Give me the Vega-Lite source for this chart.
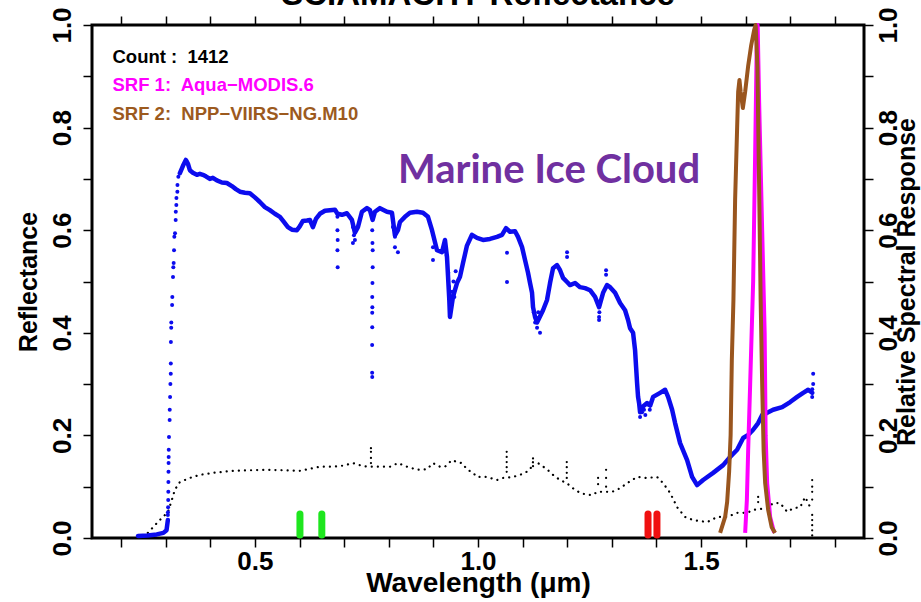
{
"$schema":"https://vega.github.io/schema/vega-lite/v6.json",
"width":772,"height":513,
"autosize":{"type":"none"},
"padding":{"left":92,"top":25,"right":57,"bottom":64},
"background":"white",
"config":{"view":{"stroke":"black","strokeWidth":3},"axis":{"grid":false,"domain":false}},
"datasets":{
"blueLine":[
{"w":0.238,"r":0.004,"g":1},{"w":0.26,"r":0.005,"g":1},{"w":0.28,"r":0.007,"g":1},{"w":0.295,"r":0.01,"g":1},{"w":0.302,"r":0.015,"g":1},{"w":0.305,"r":0.035,"g":1},
{"w":0.3318,"r":0.711,"g":2},{"w":0.3386,"r":0.725,"g":2},{"w":0.3453,"r":0.737,"g":2},{"w":0.3498,"r":0.73,"g":2},{"w":0.3543,"r":0.717,"g":2},{"w":0.361,"r":0.712,"g":2},{"w":0.37,"r":0.708,"g":2},{"w":0.3767,"r":0.71,"g":2},{"w":0.3834,"r":0.708,"g":2},{"w":0.3901,"r":0.705,"g":2},{"w":0.3991,"r":0.7,"g":2},{"w":0.4058,"r":0.702,"g":2},{"w":0.4148,"r":0.697,"g":2},{"w":0.426,"r":0.693,"g":2},{"w":0.4372,"r":0.692,"g":2},{"w":0.4484,"r":0.686,"g":2},{"w":0.4574,"r":0.68,"g":2},{"w":0.4664,"r":0.675,"g":2},{"w":0.4776,"r":0.673,"g":2},{"w":0.4888,"r":0.672,"g":2},{"w":0.5,"r":0.664,"g":2},{"w":0.5112,"r":0.655,"g":2},{"w":0.5224,"r":0.645,"g":2},{"w":0.5336,"r":0.639,"g":2},{"w":0.5448,"r":0.632,"g":2},{"w":0.5561,"r":0.626,"g":2},{"w":0.565,"r":0.616,"g":2},{"w":0.574,"r":0.606,"g":2},{"w":0.583,"r":0.601,"g":2},{"w":0.5942,"r":0.6,"g":2},{"w":0.6009,"r":0.608,"g":2},{"w":0.6076,"r":0.618,"g":2},{"w":0.6166,"r":0.619,"g":2},{"w":0.6233,"r":0.62,"g":2},{"w":0.63,"r":0.606,"g":2},{"w":0.6368,"r":0.622,"g":2},{"w":0.6457,"r":0.632,"g":2},{"w":0.657,"r":0.638,"g":2},{"w":0.6682,"r":0.639,"g":2},{"w":0.6794,"r":0.64,"g":2},{"w":0.685,"r":0.632,"g":2},{"w":0.6951,"r":0.63,"g":2},{"w":0.7063,"r":0.633,"g":2},{"w":0.7175,"r":0.62,"g":2},{"w":0.7242,"r":0.595,"g":2},{"w":0.7309,"r":0.606,"g":2},{"w":0.7399,"r":0.636,"g":2},{"w":0.7511,"r":0.643,"g":2},{"w":0.7578,"r":0.639,"g":2},{"w":0.7639,"r":0.62,"g":2},{"w":0.7691,"r":0.636,"g":2},{"w":0.7803,"r":0.643,"g":2},{"w":0.796,"r":0.636,"g":2},{"w":0.8072,"r":0.634,"g":2},{"w":0.8139,"r":0.59,"g":2},{"w":0.8206,"r":0.6,"g":2},{"w":0.8251,"r":0.616,"g":2},{"w":0.8363,"r":0.626,"g":2},{"w":0.8475,"r":0.634,"g":2},{"w":0.8632,"r":0.636,"g":2},{"w":0.8767,"r":0.634,"g":2},{"w":0.8879,"r":0.626,"g":2},{"w":0.8969,"r":0.6,"g":2},{"w":0.9081,"r":0.561,"g":2},{"w":0.9193,"r":0.557,"g":2},{"w":0.926,"r":0.581,"g":2},{"w":0.9305,"r":0.548,"g":2},{"w":0.9357,"r":0.464,"g":2},{"w":0.9372,"r":0.431,"g":2},{"w":0.9439,"r":0.47,"g":2},{"w":0.9529,"r":0.497,"g":2},{"w":0.9596,"r":0.509,"g":2},{"w":0.9664,"r":0.536,"g":2},{"w":0.9753,"r":0.57,"g":2},{"w":0.9865,"r":0.591,"g":2},{"w":0.9978,"r":0.585,"g":2},{"w":1.0112,"r":0.581,"g":2},{"w":1.0269,"r":0.583,"g":2},{"w":1.0426,"r":0.587,"g":2},{"w":1.0538,"r":0.591,"g":2},{"w":1.0628,"r":0.604,"g":2},{"w":1.0717,"r":0.597,"g":2},{"w":1.083,"r":0.598,"g":2},{"w":1.0897,"r":0.587,"g":2},{"w":1.0987,"r":0.567,"g":2},{"w":1.1054,"r":0.542,"g":2},{"w":1.1121,"r":0.517,"g":2},{"w":1.1166,"r":0.497,"g":2},{"w":1.1211,"r":0.478,"g":2},{"w":1.1233,"r":0.45,"g":2},{"w":1.1278,"r":0.431,"g":2},{"w":1.1323,"r":0.42,"g":2},{"w":1.1457,"r":0.444,"g":2},{"w":1.1547,"r":0.464,"g":2},{"w":1.1614,"r":0.497,"g":2},{"w":1.1682,"r":0.526,"g":2},{"w":1.1771,"r":0.532,"g":2},{"w":1.1839,"r":0.522,"g":2},{"w":1.1906,"r":0.507,"g":2},{"w":1.1996,"r":0.499,"g":2},{"w":1.2063,"r":0.493,"g":2},{"w":1.2175,"r":0.497,"g":2},{"w":1.2287,"r":0.489,"g":2},{"w":1.2399,"r":0.487,"g":2},{"w":1.2511,"r":0.483,"g":2},{"w":1.2623,"r":0.47,"g":2},{"w":1.2713,"r":0.45,"g":2},{"w":1.2803,"r":0.478,"g":2},{"w":1.2892,"r":0.493,"g":2},{"w":1.296,"r":0.489,"g":2},{"w":1.3072,"r":0.478,"g":2},{"w":1.3184,"r":0.458,"g":2},{"w":1.3296,"r":0.444,"g":2},{"w":1.3363,"r":0.425,"g":2},{"w":1.3408,"r":0.409,"g":2},{"w":1.3475,"r":0.4,"g":2},{"w":1.352,"r":0.366,"g":2},{"w":1.3543,"r":0.333,"g":2},{"w":1.3565,"r":0.302,"g":2},{"w":1.3587,"r":0.275,"g":2},{"w":1.361,"r":0.263,"g":2},{"w":1.3632,"r":0.245,"g":2},{"w":1.3677,"r":0.255,"g":2},{"w":1.3789,"r":0.263,"g":2},{"w":1.3857,"r":0.258,"g":2},{"w":1.3924,"r":0.275,"g":2},{"w":1.4081,"r":0.283,"g":2},{"w":1.4193,"r":0.289,"g":2},{"w":1.426,"r":0.275,"g":2},{"w":1.435,"r":0.25,"g":2},{"w":1.4417,"r":0.224,"g":2},{"w":1.4529,"r":0.185,"g":2},{"w":1.4686,"r":0.152,"g":2},{"w":1.4798,"r":0.119,"g":2},{"w":1.491,"r":0.103,"g":2},{"w":1.5045,"r":0.113,"g":2},{"w":1.5269,"r":0.127,"g":2},{"w":1.5493,"r":0.142,"g":2},{"w":1.565,"r":0.158,"g":2},{"w":1.5807,"r":0.172,"g":2},{"w":1.5942,"r":0.195,"g":2},{"w":1.6054,"r":0.201,"g":2},{"w":1.6166,"r":0.211,"g":2},{"w":1.6278,"r":0.224,"g":2},{"w":1.6368,"r":0.24,"g":2},{"w":1.648,"r":0.244,"g":2},{"w":1.6614,"r":0.25,"g":2},{"w":1.6816,"r":0.255,"g":2},{"w":1.6996,"r":0.265,"g":2},{"w":1.7152,"r":0.275,"g":2},{"w":1.7287,"r":0.283,"g":2},{"w":1.7399,"r":0.289,"g":2},{"w":1.7489,"r":0.283,"g":2}
],
"blueDots":[
{"w":0.305,"r":0.045},{"w":0.3052,"r":0.05},{"w":0.3055,"r":0.06},{"w":0.3058,"r":0.074},{"w":0.306,"r":0.09},{"w":0.3062,"r":0.109},{"w":0.3064,"r":0.129},{"w":0.3066,"r":0.146},{"w":0.3068,"r":0.158},{"w":0.307,"r":0.172},{"w":0.3075,"r":0.197},{"w":0.309,"r":0.23},{"w":0.3092,"r":0.25},{"w":0.31,"r":0.275},{"w":0.3107,"r":0.3},{"w":0.3115,"r":0.32},{"w":0.3116,"r":0.34},{"w":0.3118,"r":0.382},{"w":0.3125,"r":0.41},{"w":0.3127,"r":0.42},{"w":0.3145,"r":0.454},{"w":0.315,"r":0.47},{"w":0.3165,"r":0.509},{"w":0.3172,"r":0.528},{"w":0.318,"r":0.536},{"w":0.3188,"r":0.561},{"w":0.3195,"r":0.587},{"w":0.321,"r":0.594},{"w":0.3225,"r":0.62},{"w":0.3228,"r":0.636},{"w":0.324,"r":0.649},{"w":0.3242,"r":0.663},{"w":0.3263,"r":0.675},{"w":0.3265,"r":0.688},{"w":0.3285,"r":0.704},
{"w":0.685,"r":0.626},{"w":0.685,"r":0.6},{"w":0.6855,"r":0.581},{"w":0.685,"r":0.561},{"w":0.6855,"r":0.528},
{"w":0.7197,"r":0.606},{"w":0.7197,"r":0.575},{"w":0.7242,"r":0.581},{"w":0.722,"r":0.59},
{"w":0.763,"r":0.6},{"w":0.7635,"r":0.575},{"w":0.764,"r":0.561},{"w":0.764,"r":0.528},{"w":0.7635,"r":0.497},{"w":0.763,"r":0.47},{"w":0.7632,"r":0.45},{"w":0.763,"r":0.439},{"w":0.763,"r":0.411},{"w":0.7628,"r":0.376},{"w":0.7628,"r":0.322},{"w":0.763,"r":0.314},
{"w":0.8094,"r":0.606},{"w":0.8139,"r":0.587},{"w":0.8139,"r":0.567},{"w":0.8206,"r":0.557},
{"w":0.8991,"r":0.567},{"w":0.8991,"r":0.542},{"w":0.9334,"r":0.517},
{"w":0.928,"r":0.56},{"w":0.93,"r":0.55},{"w":0.935,"r":0.49},{"w":0.938,"r":0.45},{"w":0.94,"r":0.46},{"w":0.942,"r":0.48},{"w":0.945,"r":0.5},{"w":0.947,"r":0.47},{"w":0.95,"r":0.52},
{"w":1.065,"r":0.556},{"w":1.065,"r":0.499},
{"w":1.125,"r":0.44},{"w":1.128,"r":0.42},{"w":1.13,"r":0.43},{"w":1.1323,"r":0.41},{"w":1.135,"r":0.44},{"w":1.139,"r":0.4},{"w":1.137,"r":0.43},
{"w":1.1996,"r":0.557},{"w":1.1996,"r":0.548},
{"w":1.2713,"r":0.431},{"w":1.2713,"r":0.425},{"w":1.272,"r":0.44},
{"w":1.287,"r":0.522},{"w":1.287,"r":0.513},
{"w":1.3632,"r":0.236},{"w":1.3677,"r":0.245},{"w":1.372,"r":0.25},{"w":1.375,"r":0.24},{"w":1.38,"r":0.26},{"w":1.385,"r":0.25},
{"w":1.7511,"r":0.32},{"w":1.7511,"r":0.3},{"w":1.749,"r":0.29},{"w":1.7489,"r":0.275}
],
"blackLine":[
{"w":0.2601,"r":0.01},{"w":0.2803,"r":0.029},{"w":0.2937,"r":0.041},{"w":0.3049,"r":0.05},{"w":0.3139,"r":0.074},{"w":0.3206,"r":0.094},{"w":0.3318,"r":0.109},{"w":0.3543,"r":0.117},{"w":0.3767,"r":0.123},{"w":0.4058,"r":0.127},{"w":0.4507,"r":0.131},{"w":0.5269,"r":0.133},{"w":0.6009,"r":0.131},{"w":0.6457,"r":0.139},{"w":0.6749,"r":0.139},{"w":0.6973,"r":0.141},{"w":0.7197,"r":0.146},{"w":0.7422,"r":0.14},{"w":0.7601,"r":0.139},{"w":0.7803,"r":0.139},{"w":0.8027,"r":0.139},{"w":0.8206,"r":0.146},{"w":0.8408,"r":0.139},{"w":0.8632,"r":0.133},{"w":0.8857,"r":0.134},{"w":0.8991,"r":0.146},{"w":0.9148,"r":0.139},{"w":0.926,"r":0.139},{"w":0.9417,"r":0.152},{"w":0.9529,"r":0.148},{"w":0.9641,"r":0.146},{"w":0.9753,"r":0.134},{"w":0.9888,"r":0.127},{"w":0.9978,"r":0.119},{"w":1.0202,"r":0.119},{"w":1.0426,"r":0.113},{"w":1.0561,"r":0.117},{"w":1.0785,"r":0.119},{"w":1.1009,"r":0.125},{"w":1.1166,"r":0.133},{"w":1.1233,"r":0.148},{"w":1.1345,"r":0.146},{"w":1.1547,"r":0.134},{"w":1.1682,"r":0.123},{"w":1.1839,"r":0.113},{"w":1.1989,"r":0.107},{"w":1.213,"r":0.097},{"w":1.2287,"r":0.088},{"w":1.2444,"r":0.084},{"w":1.2578,"r":0.084},{"w":1.2668,"r":0.09},{"w":1.3004,"r":0.09},{"w":1.3184,"r":0.097},{"w":1.3341,"r":0.107},{"w":1.3565,"r":0.119},{"w":1.3789,"r":0.117},{"w":1.4013,"r":0.119},{"w":1.4148,"r":0.107},{"w":1.4305,"r":0.088},{"w":1.4462,"r":0.06},{"w":1.4641,"r":0.041},{"w":1.4821,"r":0.035},{"w":1.5135,"r":0.031},{"w":1.5359,"r":0.041},{"w":1.5583,"r":0.041},{"w":1.5807,"r":0.049},{"w":1.6031,"r":0.049},{"w":1.6166,"r":0.055},{"w":1.648,"r":0.058},{"w":1.6614,"r":0.068},{"w":1.6771,"r":0.068},{"w":1.6928,"r":0.051},{"w":1.7063,"r":0.058},{"w":1.722,"r":0.06},{"w":1.7332,"r":0.08},{"w":1.7444,"r":0.06},{"w":1.7489,"r":0.055}
],
"blackDots":[
{"w":0.7601,"r":0.175},{"w":0.7601,"r":0.168},{"w":0.7601,"r":0.156},{"w":0.7601,"r":0.146},
{"w":1.0643,"r":0.168},{"w":1.0643,"r":0.158},{"w":1.0643,"r":0.148},{"w":1.0643,"r":0.138},{"w":1.0643,"r":0.129},
{"w":1.1233,"r":0.155},{"w":1.1233,"r":0.14},
{"w":1.1989,"r":0.148},{"w":1.1989,"r":0.138},{"w":1.1989,"r":0.127},{"w":1.1989,"r":0.117},
{"w":1.2691,"r":0.117},{"w":1.2691,"r":0.105},
{"w":1.287,"r":0.133},{"w":1.287,"r":0.117},{"w":1.287,"r":0.1},
{"w":1.6278,"r":0.08},{"w":1.6278,"r":0.07},
{"w":1.7489,"r":0.113},{"w":1.7489,"r":0.1},{"w":1.7489,"r":0.09},{"w":1.7489,"r":0.075},{"w":1.7489,"r":0.045},{"w":1.7489,"r":0.035},{"w":1.7489,"r":0.025},{"w":1.7489,"r":0.015},{"w":1.7489,"r":0.005}
],
"greenBars":[{"w":0.601,"r":0.006,"r2":0.047},{"w":0.65,"r":0.006,"r2":0.047}],
"redBars":[{"w":1.381,"r":0.006,"r2":0.047},{"w":1.401,"r":0.006,"r2":0.047}],
"modis":[
{"w":1.5987,"r":0.01},{"w":1.6025,"r":0.074},{"w":1.6054,"r":0.17},{"w":1.6099,"r":0.3},{"w":1.6166,"r":0.5},{"w":1.6211,"r":0.75},{"w":1.6244,"r":0.95},{"w":1.6267,"r":1.0},{"w":1.63,"r":0.85},{"w":1.6368,"r":0.6},{"w":1.6424,"r":0.4},{"w":1.6446,"r":0.2},{"w":1.648,"r":0.107},{"w":1.6547,"r":0.041},{"w":1.6637,"r":0.01}
],
"viirs":[
{"w":1.5426,"r":0.01},{"w":1.5538,"r":0.041},{"w":1.5583,"r":0.07},{"w":1.5628,"r":0.13},{"w":1.5661,"r":0.2},{"w":1.5688,"r":0.347},{"w":1.5724,"r":0.464},{"w":1.5762,"r":0.66},{"w":1.5807,"r":0.8},{"w":1.583,"r":0.87},{"w":1.5859,"r":0.893},{"w":1.5886,"r":0.87},{"w":1.5935,"r":0.838},{"w":1.5987,"r":0.87},{"w":1.6054,"r":0.92},{"w":1.6121,"r":0.96},{"w":1.6188,"r":0.99},{"w":1.6222,"r":1.0},{"w":1.6262,"r":0.918},{"w":1.6294,"r":0.723},{"w":1.6334,"r":0.464},{"w":1.6368,"r":0.3},{"w":1.6401,"r":0.17},{"w":1.6435,"r":0.107},{"w":1.6502,"r":0.055},{"w":1.6581,"r":0.021},{"w":1.6659,"r":0.01}
],
"labels":[
{"w":0.1809,"r":0.926,"t":"Count :\u00a0 1412","k":"count"},
{"w":0.1809,"r":0.871,"t":"SRF 1:\u00a0 Aqua\u2212MODIS.6","k":"srf1"},
{"w":0.1809,"r":0.815,"t":"SRF 2:\u00a0 NPP\u2212VIIRS\u2212NG.M10","k":"srf2"}
],
"marine":[{"w":0.8206,"r":0.692,"t":"Marine Ice Cloud"}],
"heading":[{"w":1.0,"r":1.039,"t":"SCIAMACHY Reflectance"}]
},
"encoding":{
"x":{"field":"w","type":"quantitative","scale":{"domain":[0.135,1.865],"nice":false,"zero":false},"axis":null},
"y":{"field":"r","type":"quantitative","scale":{"domain":[0,1],"nice":false,"zero":false},"axis":null}
},
"layer":[
{"data":{"name":"blackLine"},
 "mark":{"type":"line","color":"black","strokeWidth":2.2,"strokeDash":[0.1,6],"strokeCap":"round"},
 "encoding":{
  "x":{"field":"w","type":"quantitative","scale":{"domain":[0.135,1.865],"nice":false,"zero":false},
   "axis":{"orient":"bottom","values":[0.2,0.3,0.4,0.5,0.6,0.7,0.8,0.9,1.0,1.1,1.2,1.3,1.4,1.5,1.6,1.7,1.8],
    "labelExpr":"(abs(datum.value-0.5)<0.001||abs(datum.value-1)<0.001||abs(datum.value-1.5)<0.001) ? format(datum.value,'.1f') : ''",
    "tickSize":9,"tickWidth":1.5,"tickColor":"black","labelFont":"Liberation Sans","labelFontSize":26,"labelFontWeight":"bold","labelColor":"black","labelPadding":1,"labelOverlap":false,
    "title":"Wavelength (\u03bcm)","titleFont":"Liberation Sans","titleFontSize":28,"titleFontWeight":"bold","titleColor":"black","titlePadding":-5}},
  "y":{"field":"r","type":"quantitative","scale":{"domain":[0,1],"nice":false,"zero":false},
   "axis":{"orient":"left","values":[0,0.1,0.2,0.3,0.4,0.5,0.6,0.7,0.8,0.9,1.0],
    "labelExpr":"round(datum.value*10)%2==0 ? format(datum.value,'.1f') : ''",
    "labelAngle":270,"tickSize":9,"tickWidth":1.5,"tickColor":"black","labelFont":"Liberation Sans","labelFontSize":26,"labelFontWeight":"bold","labelColor":"black","labelPadding":8,"labelOverlap":false,
    "title":"Reflectance","titleFont":"Liberation Sans","titleFontSize":25,"titleFontWeight":"bold","titleColor":"black","titlePadding":8}}
 }},
{"data":{"name":"blackDots"},
 "mark":{"type":"circle","color":"black","size":5,"opacity":1},
 "encoding":{
  "x":{"field":"w","type":"quantitative","scale":{"domain":[0.135,1.865],"nice":false,"zero":false},
   "axis":{"orient":"top","values":[0.2,0.3,0.4,0.5,0.6,0.7,0.8,0.9,1.0,1.1,1.2,1.3,1.4,1.5,1.6,1.7,1.8],"labels":false,"tickSize":9,"tickWidth":1.5,"tickColor":"black","title":null}}
 }},
{"data":{"name":"greenBars"},
 "mark":{"type":"rule","color":"#1ee61e","strokeWidth":7,"strokeCap":"round"},
 "encoding":{"y2":{"field":"r2"}}},
{"data":{"name":"redBars"},
 "mark":{"type":"rule","color":"#f01010","strokeWidth":7,"strokeCap":"round"},
 "encoding":{"y2":{"field":"r2"}}},
{"data":{"name":"blueLine"},
 "mark":{"type":"line","color":"#0c0cee","strokeWidth":4.5,"strokeCap":"round","strokeJoin":"round"},
 "encoding":{"detail":{"field":"g","type":"nominal"}}},
{"data":{"name":"blueDots"},
 "mark":{"type":"circle","color":"#0c0cee","size":16,"opacity":1}},
{"data":{"name":"modis"},
 "mark":{"type":"line","color":"#ff00ff","strokeWidth":4,"strokeJoin":"round"},
 "encoding":{
  "y":{"field":"r","type":"quantitative","scale":{"domain":[0,1],"nice":false,"zero":false},
   "axis":{"orient":"right","values":[0,0.1,0.2,0.3,0.4,0.5,0.6,0.7,0.8,0.9,1.0],
    "labelExpr":"round(datum.value*10)%2==0 ? format(datum.value,'.1f') : ''",
    "labelAngle":270,"tickSize":9,"tickWidth":1.5,"tickColor":"black","labelFont":"Liberation Sans","labelFontSize":26,"labelFontWeight":"bold","labelColor":"black","labelPadding":2,"labelOverlap":false,
    "title":"Relative Spectral Response","titleAngle":270,"titleBaseline":"top","titleFont":"Liberation Sans","titleFontSize":25,"titleFontWeight":"bold","titleColor":"black","titlePadding":-7}}
 }},
{"data":{"name":"viirs"},
 "mark":{"type":"line","color":"#99551e","strokeWidth":4,"strokeJoin":"round"}},
{"data":{"name":"labels"},
 "mark":{"type":"text","align":"left","baseline":"alphabetic","font":"Liberation Sans","fontSize":18.5,"fontWeight":"bold"},
 "encoding":{"text":{"field":"t"},"color":{"field":"k","type":"nominal","scale":{"domain":["count","srf1","srf2"],"range":["black","#ff00ff","#9c5a1e"]},"legend":null}}},
{"data":{"name":"marine"},
 "mark":{"type":"text","align":"left","baseline":"alphabetic","font":"Lato","fontSize":40,"fontWeight":"bold","color":"#7030a0"},
 "encoding":{"text":{"field":"t"}}},
{"data":{"name":"heading"},
 "mark":{"type":"text","align":"center","baseline":"alphabetic","font":"Liberation Sans","fontSize":33,"fontWeight":"bold","color":"black","clip":false},
 "encoding":{"text":{"field":"t"}}}
],
"resolve":{"axis":{"x":"independent","y":"independent"}}
}
